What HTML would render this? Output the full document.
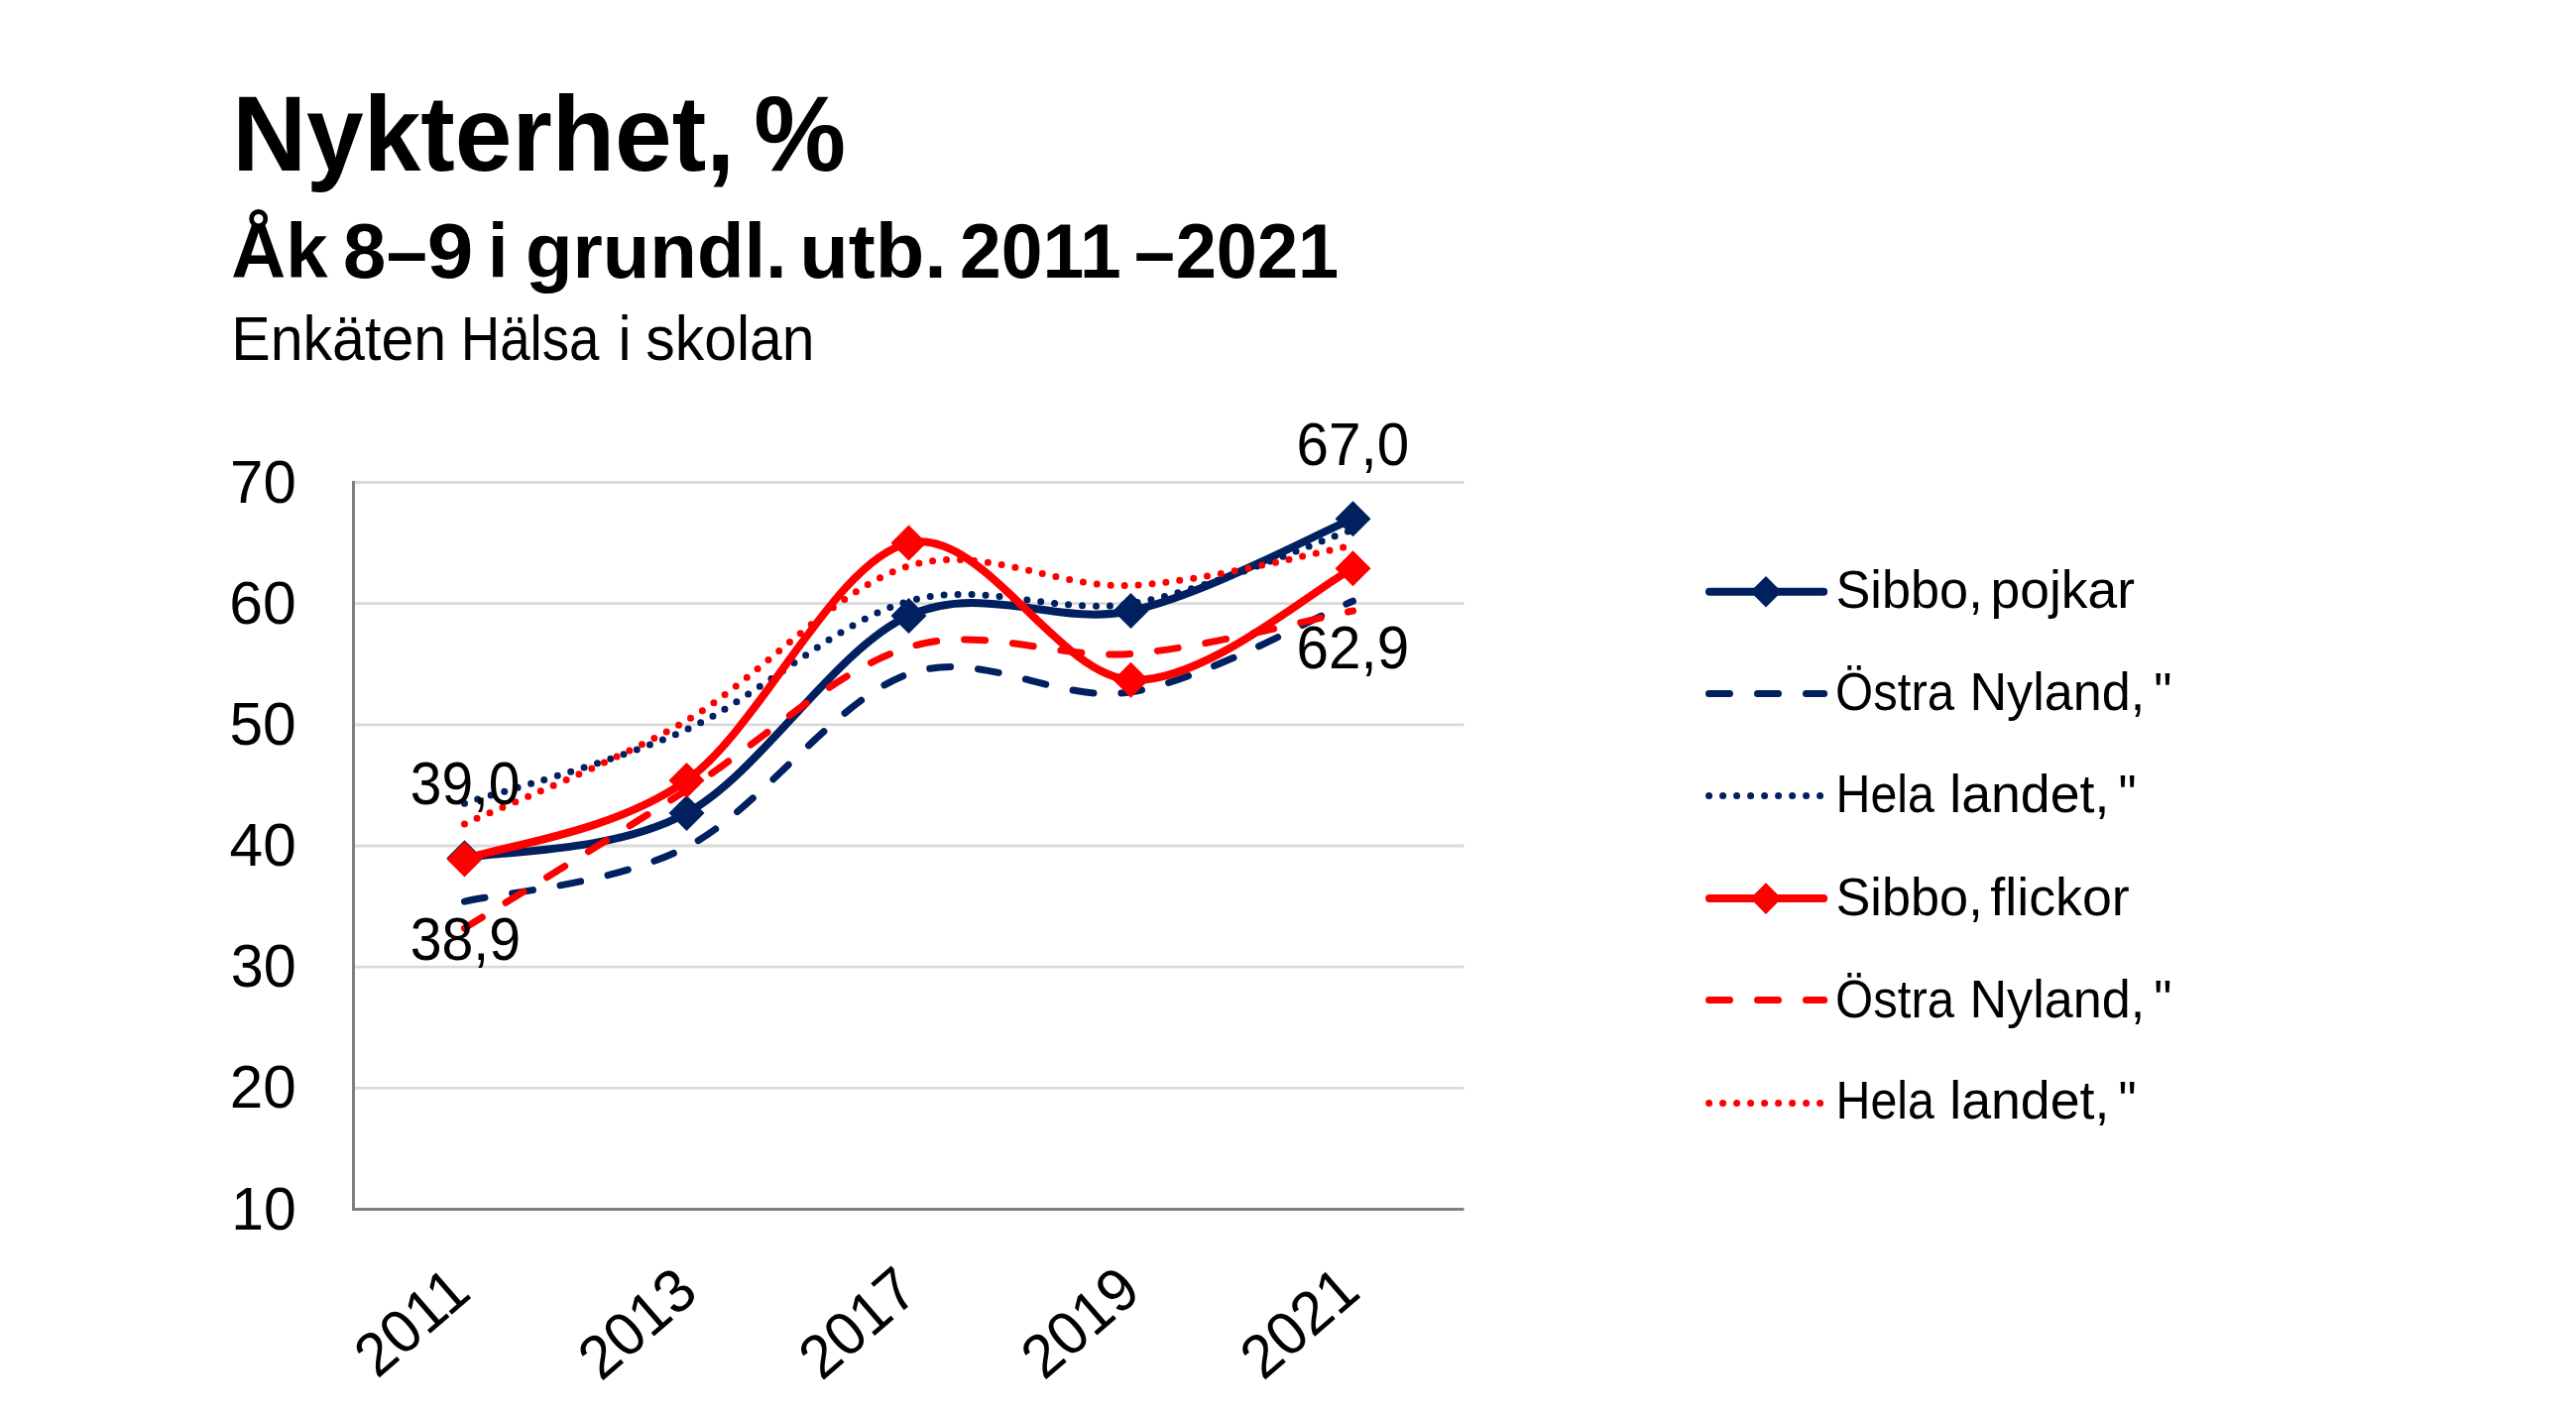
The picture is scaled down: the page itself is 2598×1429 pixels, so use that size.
<!DOCTYPE html>
<html lang="sv"><head><meta charset="utf-8"><title>Nykterhet, %</title>
<style>
html,body{margin:0;padding:0;background:#fff;}
body{width:2598px;height:1429px;overflow:hidden;position:relative;font-family:"Liberation Sans",sans-serif;}
svg{position:absolute;left:0;top:0;display:block;}
text{font-family:"Liberation Sans",sans-serif;fill:#000;}
.b{font-weight:700;}
</style></head><body>
<svg  width="2598" height="1429" viewBox="0 0 2598 1429">
<rect width="2598" height="1429" fill="#fff"/>
<g stroke="#D9D9D9" stroke-width="2.8" fill="none">
<line x1="356.5" y1="486.50" x2="1476.5" y2="486.50"/>
<line x1="356.5" y1="608.67" x2="1476.5" y2="608.67"/>
<line x1="356.5" y1="730.83" x2="1476.5" y2="730.83"/>
<line x1="356.5" y1="853.00" x2="1476.5" y2="853.00"/>
<line x1="356.5" y1="975.17" x2="1476.5" y2="975.17"/>
<line x1="356.5" y1="1097.33" x2="1476.5" y2="1097.33"/>
</g>
<g stroke="#808080" stroke-width="3" fill="none"><line x1="356.5" y1="485.1" x2="356.5" y2="1221.0"/><line x1="355.0" y1="1219.5" x2="1476.5" y2="1219.5"/></g>
<g fill="none" stroke-linecap="round" stroke-linejoin="round">
<path d="M468.50,865.22 C505.83,857.68 617.83,860.74 692.50,820.01 C767.17,779.29 841.83,654.89 916.50,620.88 C991.17,586.88 1065.83,632.29 1140.50,616.00 C1215.17,599.71 1327.17,538.62 1364.50,523.15" stroke="#002060" stroke-width="8"/>
<path d="M468.50,847.22 L486.50,865.22 L468.50,883.22 L450.50,865.22 Z" fill="#002060"/>
<path d="M692.50,802.01 L710.50,820.01 L692.50,838.01 L674.50,820.01 Z" fill="#002060"/>
<path d="M916.50,602.88 L934.50,620.88 L916.50,638.88 L898.50,620.88 Z" fill="#002060"/>
<path d="M1140.50,598.00 L1158.50,616.00 L1140.50,634.00 L1122.50,616.00 Z" fill="#002060"/>
<path d="M1364.50,505.15 L1382.50,523.15 L1364.50,541.15 L1346.50,523.15 Z" fill="#002060"/>
<path d="M468.50,909.20 C505.83,900.03 617.83,892.50 692.50,854.22 C767.17,815.94 841.83,705.59 916.50,679.52 C991.17,653.46 1065.83,710.06 1140.50,697.85 C1215.17,685.63 1327.17,621.49 1364.50,606.22" stroke="#002060" stroke-width="7" stroke-dasharray="21 28"/>
<path d="M468.50,810.24 C505.83,797.82 617.83,769.72 692.50,735.72 C767.17,701.72 841.83,627.40 916.50,606.22 C991.17,585.05 1065.83,620.68 1140.50,608.67 C1215.17,596.65 1327.17,546.57 1364.50,534.15" stroke="#002060" stroke-width="7" stroke-dasharray="0 14"/>
<path d="M468.50,866.44 C505.83,853.20 617.83,840.17 692.50,787.03 C767.17,733.89 841.83,564.48 916.50,547.58 C991.17,530.68 1065.83,681.36 1140.50,685.63 C1215.17,689.91 1327.17,591.97 1364.50,573.24" stroke="#FF0000" stroke-width="8"/>
<path d="M468.50,848.44 L486.50,866.44 L468.50,884.44 L450.50,866.44 Z" fill="#FF0000"/>
<path d="M692.50,769.03 L710.50,787.03 L692.50,805.03 L674.50,787.03 Z" fill="#FF0000"/>
<path d="M916.50,529.58 L934.50,547.58 L916.50,565.58 L898.50,547.58 Z" fill="#FF0000"/>
<path d="M1140.50,667.63 L1158.50,685.63 L1140.50,703.63 L1122.50,685.63 Z" fill="#FF0000"/>
<path d="M1364.50,555.24 L1382.50,573.24 L1364.50,591.24 L1346.50,573.24 Z" fill="#FF0000"/>
<path d="M468.50,936.07 C505.83,912.86 617.83,844.04 692.50,796.80 C767.17,749.57 841.83,675.55 916.50,652.65 C991.17,629.74 1065.83,665.47 1140.50,659.37 C1215.17,653.26 1327.17,623.22 1364.50,616.00" stroke="#FF0000" stroke-width="7" stroke-dasharray="21 28"/>
<path d="M468.50,831.01 C505.83,813.60 617.83,769.93 692.50,726.56 C767.17,683.19 841.83,593.50 916.50,570.79 C991.17,548.09 1065.83,593.80 1140.50,590.34 C1215.17,586.88 1327.17,556.75 1364.50,550.03" stroke="#FF0000" stroke-width="7" stroke-dasharray="0 14"/>
</g>
<g fill="none" stroke-linecap="round">
<line x1="1724" y1="596.8" x2="1839.2" y2="596.8" stroke="#002060" stroke-width="8"/>
<path d="M1781.00,581.00 L1796.80,596.80 L1781.00,612.60 L1765.20,596.80 Z" fill="#002060"/>
<line x1="1723.5" y1="699.6" x2="1839.7" y2="699.6" stroke="#002060" stroke-width="7" stroke-dasharray="21 28"/>
<line x1="1723.6" y1="802.6" x2="1836" y2="802.6" stroke="#002060" stroke-width="7" stroke-dasharray="0 14"/>
<line x1="1724" y1="906.1" x2="1839.2" y2="906.1" stroke="#FF0000" stroke-width="8"/>
<path d="M1781.00,890.30 L1796.80,906.10 L1781.00,921.90 L1765.20,906.10 Z" fill="#FF0000"/>
<line x1="1723.5" y1="1008.5" x2="1839.7" y2="1008.5" stroke="#FF0000" stroke-width="7" stroke-dasharray="21 28"/>
<line x1="1723.6" y1="1112.4" x2="1836" y2="1112.4" stroke="#FF0000" stroke-width="7" stroke-dasharray="0 14"/>
</g>
<text class="b" font-size="107.3" transform="translate(234.24,172.20) scale(0.9658,1)">Nykterhet,</text>
<text class="b" font-size="107.3" transform="translate(760.28,172.20) scale(0.9733,1)">%</text>
<text class="b" font-size="77.4" transform="translate(233.33,280.40) scale(0.9833,1)">Åk</text>
<text class="b" font-size="77.4" transform="translate(345.89,280.40) scale(1.0051,1)">8</text>
<text class="b" font-size="77.4" transform="translate(389.69,280.40) scale(0.9564,1)">–</text>
<text class="b" font-size="77.4" transform="translate(430.65,280.40) scale(1.0838,1)">9</text>
<text class="b" font-size="77.4" transform="translate(492.12,280.40) scale(0.9500,1)">i</text>
<text class="b" font-size="77.4" transform="translate(529.98,280.40) scale(1.0059,1)">grundl.</text>
<text class="b" font-size="77.4" transform="translate(806.16,280.40) scale(1.0481,1)">utb.</text>
<text class="b" font-size="77.4" transform="translate(967.89,280.40) scale(0.9699,1)">2011</text>
<text class="b" font-size="77.4" transform="translate(1143.90,280.40) scale(0.9513,1)">–</text>
<text class="b" font-size="77.4" transform="translate(1185.63,280.40) scale(0.9563,1)">2021</text>
<text font-size="62.2" transform="translate(233.25,362.60) scale(0.9507,1)">Enkäten</text>
<text font-size="62.2" transform="translate(464.71,362.60) scale(0.8786,1)">Hälsa</text>
<text font-size="62.2" transform="translate(623.45,362.60) scale(0.9500,1)">i</text>
<text font-size="62.2" transform="translate(651.31,362.60) scale(0.9471,1)">skolan</text>
<text font-size="61.5" transform="translate(232.08,506.50) scale(0.9746,1)">70</text>
<text font-size="61.5" transform="translate(231.34,628.67) scale(0.9857,1)">60</text>
<text font-size="61.5" transform="translate(231.45,750.83) scale(0.9841,1)">50</text>
<text font-size="61.5" transform="translate(231.62,873.00) scale(0.9815,1)">40</text>
<text font-size="61.5" transform="translate(232.77,995.17) scale(0.9641,1)">30</text>
<text font-size="61.5" transform="translate(231.76,1117.33) scale(0.9794,1)">20</text>
<text font-size="61.5" transform="translate(233.21,1239.50) scale(0.9574,1)">10</text>
<text font-size="61.5" transform="translate(413.75,810.80) scale(0.9252,1)">39,0</text>
<text font-size="61.5" transform="translate(413.74,967.70) scale(0.9304,1)">38,9</text>
<text font-size="61.5" transform="translate(1307.45,469.00) scale(0.9500,1)">67,0</text>
<text font-size="61.5" transform="translate(1307.45,674.20) scale(0.9500,1)">62,9</text>
<text font-size="53.9" transform="translate(1851.49,612.90) scale(0.9697,1)">Sibbo,</text>
<text font-size="53.9" transform="translate(1851.49,922.50) scale(0.9697,1)">Sibbo,</text>
<text font-size="53.9" transform="translate(2007.53,612.90) scale(0.9915,1)">pojkar</text>
<text font-size="53.9" transform="translate(2007.30,922.50) scale(0.9978,1)">flickor</text>
<text font-size="53.9" transform="translate(1851.07,716.20) scale(0.9109,1)">Östra</text>
<text font-size="53.9" transform="translate(1986.43,716.20) scale(0.9672,1)">Nyland,</text>
<text font-size="53.9" transform="translate(2172.32,716.20) scale(0.9500,1)">"</text>
<text font-size="53.9" transform="translate(1851.07,1025.80) scale(0.9109,1)">Östra</text>
<text font-size="53.9" transform="translate(1986.43,1025.80) scale(0.9672,1)">Nyland,</text>
<text font-size="53.9" transform="translate(2172.32,1025.80) scale(0.9500,1)">"</text>
<text font-size="53.9" transform="translate(1851.61,818.90) scale(0.8963,1)">Hela</text>
<text font-size="53.9" transform="translate(1966.22,818.90) scale(0.9961,1)">landet,</text>
<text font-size="53.9" transform="translate(2136.38,818.90) scale(0.9500,1)">"</text>
<text font-size="53.9" transform="translate(1851.61,1128.40) scale(0.8963,1)">Hela</text>
<text font-size="53.9" transform="translate(1966.22,1128.40) scale(0.9961,1)">landet,</text>
<text font-size="53.9" transform="translate(2136.38,1128.40) scale(0.9500,1)">"</text>
<text font-size="61.5" text-anchor="end" transform="translate(477.25,1307.00) rotate(-41.0) scale(0.97,1)">2011</text>
<text font-size="61.5" text-anchor="end" transform="translate(706.40,1306.90) rotate(-41.0) scale(0.97,1)">2013</text>
<text font-size="61.5" text-anchor="end" transform="translate(928.80,1306.40) rotate(-41.0) scale(0.97,1)">2017</text>
<text font-size="61.5" text-anchor="end" transform="translate(1153.10,1306.00) rotate(-41.0) scale(0.97,1)">2019</text>
<text font-size="61.5" text-anchor="end" transform="translate(1374.20,1306.20) rotate(-41.0) scale(0.97,1)">2021</text>
</svg></body></html>
